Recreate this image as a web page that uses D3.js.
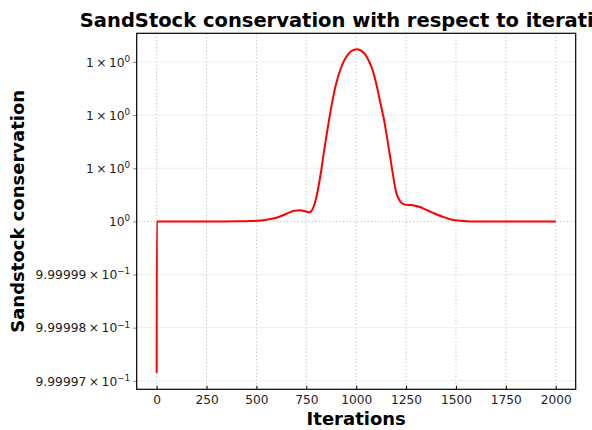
<!DOCTYPE html>
<html><head><meta charset="utf-8">
<script src="https://cdn.jsdelivr.net/npm/d3@7"></script>
<style>body{margin:0;background:#fff}svg{display:block}text{font-family:"DejaVu Sans",sans-serif}</style>
</head><body><svg id="c" width="592" height="430"></svg>
<script>
const title = "SandStock conservation with respect to iterations";
const xLabel = "Iterations";
const yLabel = "Sandstock conservation";
const iterations = [0, 1, 100, 200, 300, 400, 450, 500, 550, 600, 630, 660, 690, 720, 745, 765, 780, 800, 820, 840, 860, 880, 900, 920, 940, 960, 970, 980, 990, 1003, 1016, 1026, 1036, 1046, 1066, 1080, 1100, 1120, 1140, 1160, 1180, 1200, 1220, 1240, 1260, 1290, 1320, 1350, 1380, 1410, 1440, 1470, 1500, 1550, 1600, 1700, 1800, 1900, 2000];
const sandStock = [0.99999715, 1.0, 1.0, 1.0, 1.0, 1.000000002, 1.000000005, 1.00000001, 1.00000003, 1.00000007, 1.00000011, 1.00000016, 1.0000002, 1.00000021, 1.00000019, 1.00000017, 1.00000022, 1.00000045, 1.00000085, 1.00000135, 1.00000182, 1.00000225, 1.0000026, 1.00000285, 1.00000303, 1.00000315, 1.00000319, 1.000003215, 1.00000323, 1.00000324, 1.00000323, 1.00000321, 1.00000318, 1.00000314, 1.000003, 1.00000287, 1.0000026, 1.00000225, 1.0000019, 1.00000145, 1.00000098, 1.00000055, 1.00000038, 1.00000032, 1.00000031, 1.0000003, 1.00000027, 1.00000022, 1.00000017, 1.00000012, 1.00000008, 1.00000004, 1.00000002, 1.000000005, 1.0, 1.0, 1.0, 1.0, 1.0];
const xTicks = [0, 250, 500, 750, 1000, 1250, 1500, 1750, 2000];
const yTicks = [0.999997, 0.999998, 0.999999, 1.0, 1.000001, 1.000002, 1.000003];
const yTickLabels = [["9.99997\u2009\u00d7\u200910", "\u22121"], ["9.99998\u2009\u00d7\u200910", "\u22121"], ["9.99999\u2009\u00d7\u200910", "\u22121"], ["10", "0"], ["1\u2009\u00d7\u200910", "0"], ["1\u2009\u00d7\u200910", "0"], ["1\u2009\u00d7\u200910", "0"]];

const L = 136.7, R = 575.7, T = 33.3, B = 389.3;
const svg = d3.select("#c");
const x = d3.scaleLinear().domain([-100, 2100]).range([L, R]);
const y = d3.scaleLog().domain([0.99999684, 1.00000354]).range([B, T]);

// grid
const g = svg.append("g");
g.selectAll(".xg").data(xTicks).join("line")
  .attr("x1", d => x(d)).attr("x2", d => x(d)).attr("y1", T).attr("y2", B)
  .attr("stroke", "#b0b0b0").attr("stroke-width", 1).attr("stroke-dasharray", "1,2.5");
g.selectAll(".yg").data(yTicks).join("line")
  .attr("x1", L).attr("x2", R).attr("y1", d => y(d)).attr("y2", d => y(d))
  .attr("stroke", d => d === 1 ? "#b0b0b0" : "#eeeeee")
  .attr("stroke-width", 1)
  .attr("stroke-dasharray", d => d === 1 ? "1,2.5" : null);

// axes
const xAxis = d3.axisBottom(x).tickValues(xTicks).tickSize(-3.5).tickPadding(6).tickFormat(d3.format("d"));
const xa = svg.append("g").attr("transform", `translate(0,${B})`).call(xAxis);
xa.select(".domain").remove();
xa.selectAll("text").attr("font-size", 12.2).attr("fill", "#222").attr("font-family", "DejaVu Sans");

const yAxis = d3.axisLeft(y).tickValues(yTicks).tickSize(3.5).tickPadding(4).tickFormat(() => "");
const ya = svg.append("g").attr("transform", `translate(${L},0)`).call(yAxis);
ya.select(".domain").remove();
ya.selectAll(".tick line").attr("stroke", "#888");
ya.selectAll(".tick").each(function(d, i) {
  const t = d3.select(this).select("text").attr("font-size", 12.3).attr("fill", "#222")
    .attr("x", -6.5).attr("dy", "0.35em").attr("text-anchor", "end").text(null);
  t.append("tspan").text(yTickLabels[i][0]);
  t.append("tspan").attr("font-size", 8.8).attr("dy", "-0.55em").text(yTickLabels[i][1]);
});

// line
const line = d3.line().x((d, i) => x(iterations[i])).y(d => y(d)).curve(d3.curveMonotoneX);
svg.append("path").datum(sandStock).attr("d", line)
  .attr("fill", "none").attr("stroke", "#ff0000").attr("stroke-width", 2);

// frame
svg.append("rect").attr("x", L).attr("y", T).attr("width", R - L).attr("height", B - T)
  .attr("fill", "none").attr("stroke", "#000").attr("stroke-width", 1.2);

// labels
svg.append("text").attr("x", (L + R) / 2).attr("y", 27).attr("text-anchor", "middle")
  .attr("font-size", 19.5).attr("font-weight", "bold").text(title);
svg.append("text").attr("x", (L + R) / 2).attr("y", 425).attr("text-anchor", "middle")
  .attr("font-size", 18).attr("font-weight", "bold").text(xLabel);
svg.append("text").attr("transform", `translate(24,${(T + B) / 2}) rotate(-90)`).attr("text-anchor", "middle")
  .attr("font-size", 18).attr("font-weight", "bold").text(yLabel);
</script></body></html>
